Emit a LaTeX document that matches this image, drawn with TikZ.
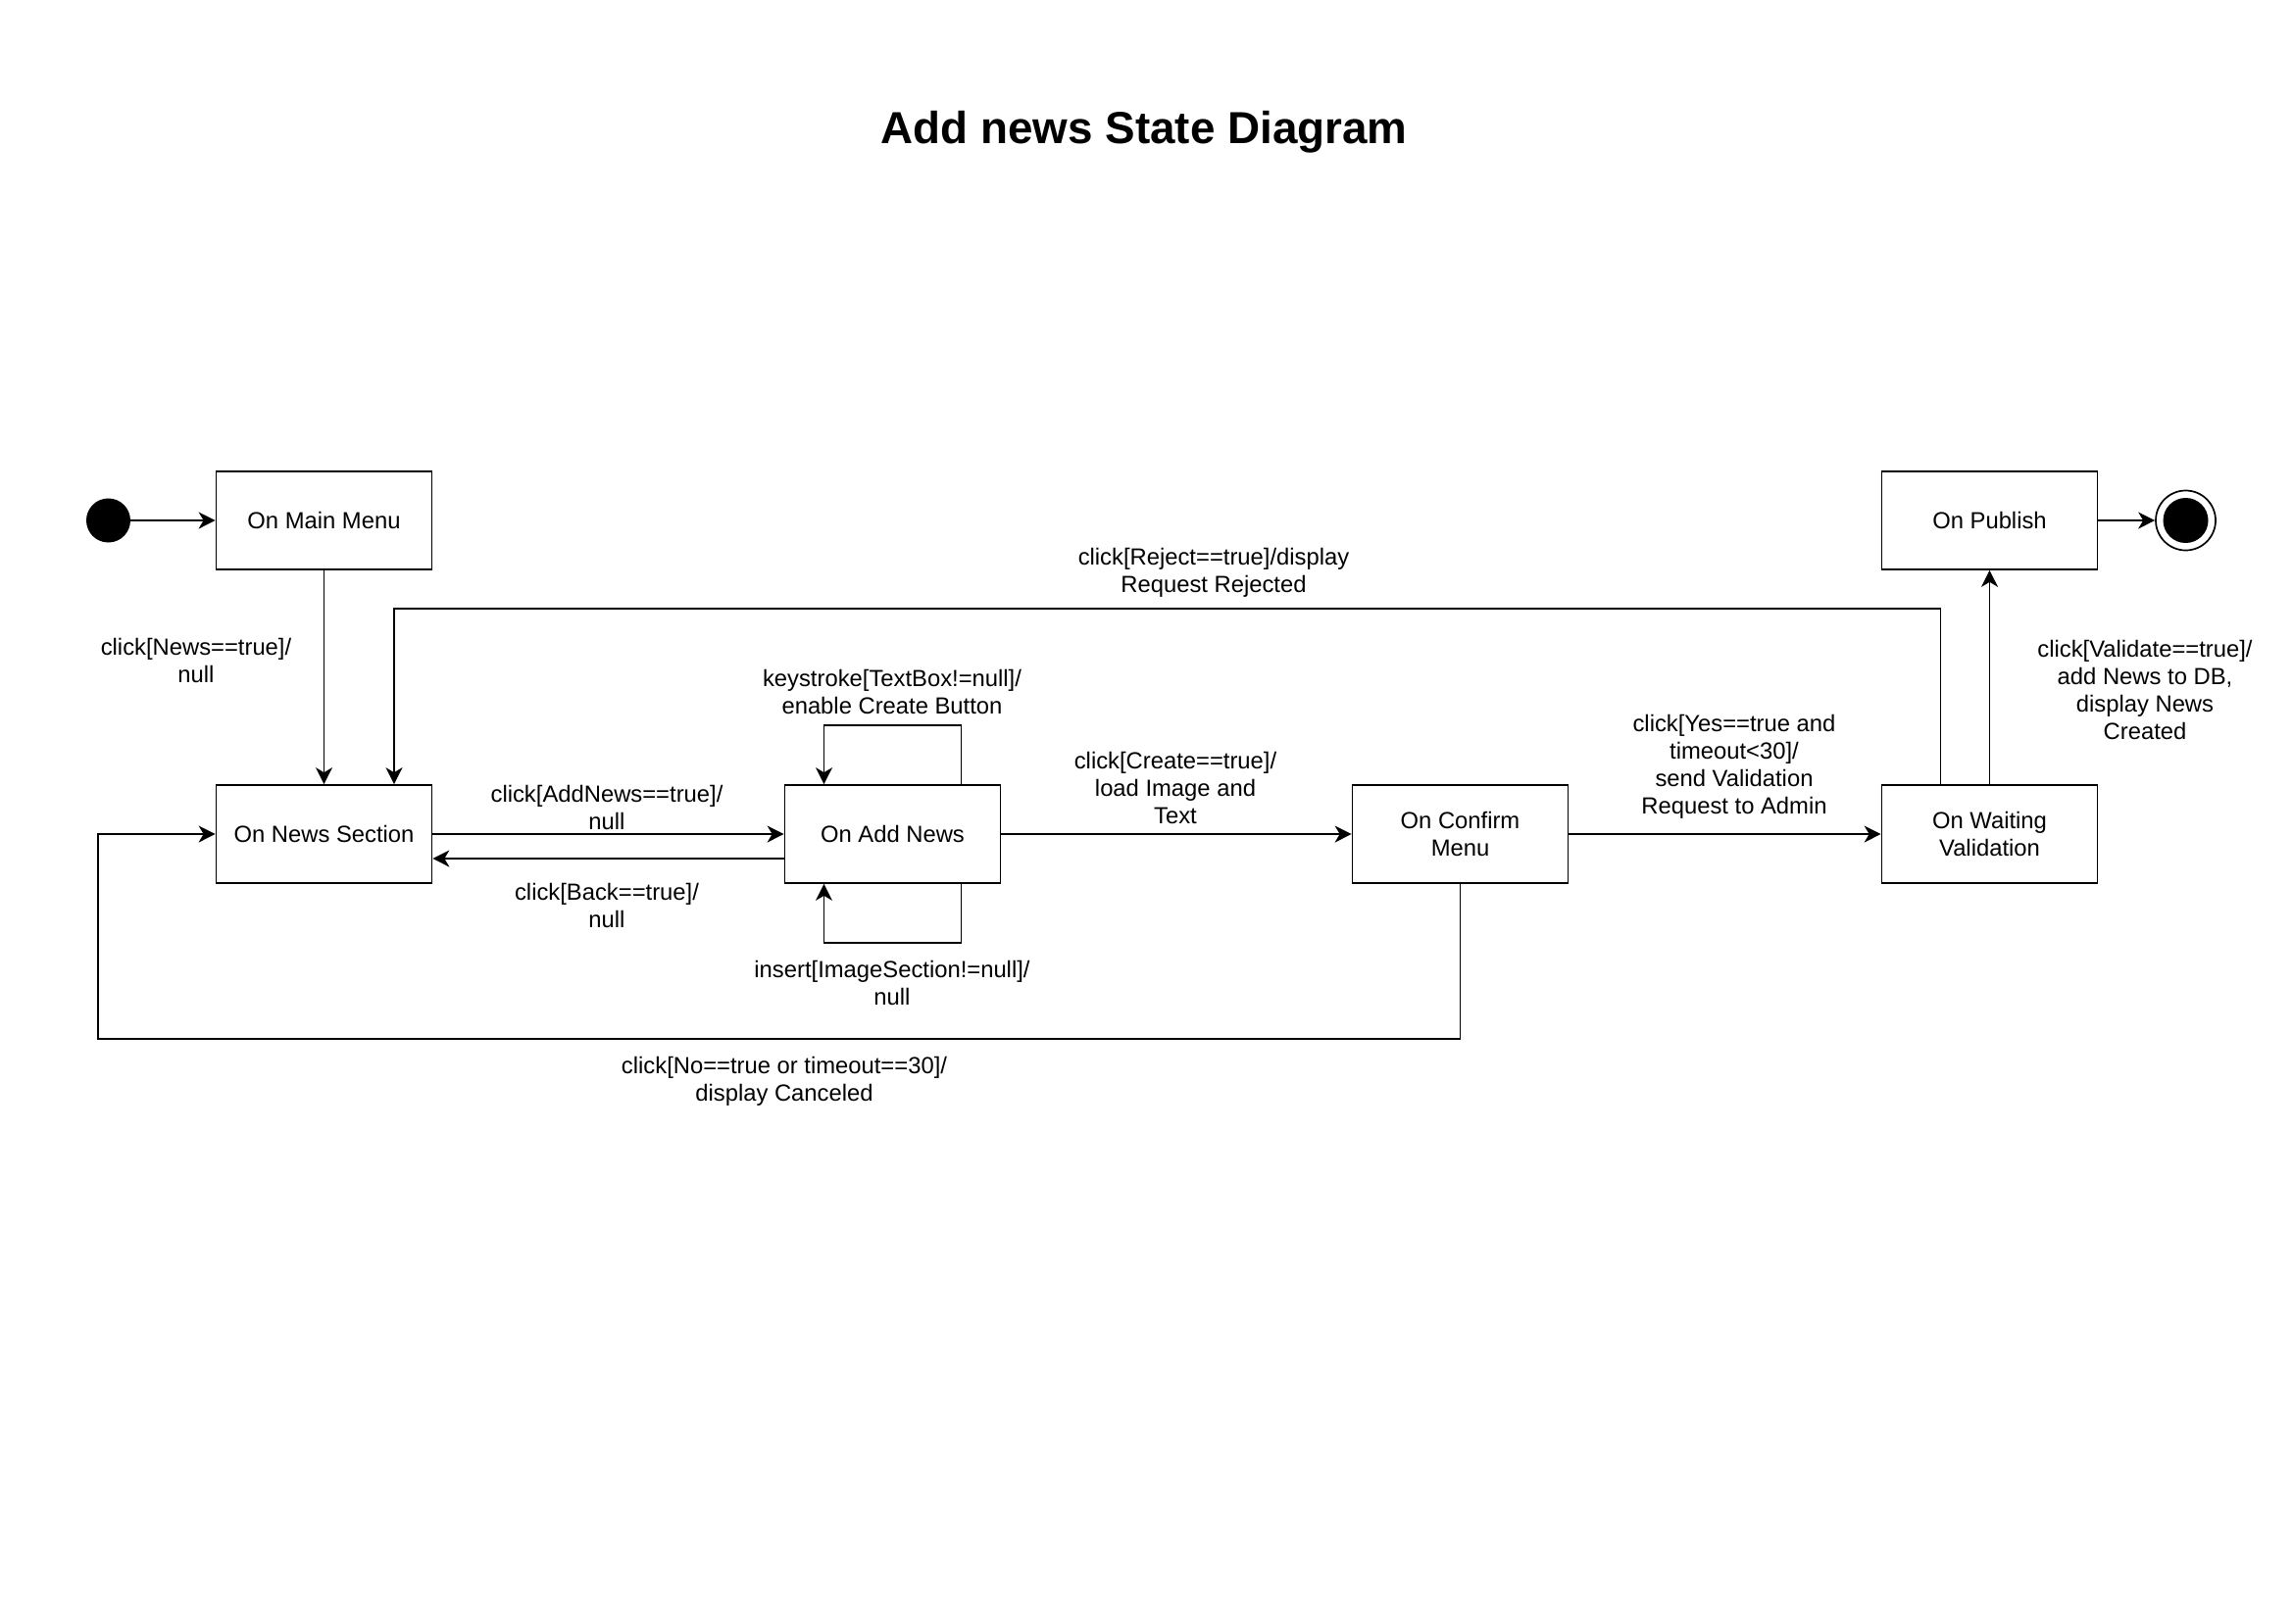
\documentclass[tikz,border=0pt]{standalone}
\usepackage{fontspec}
\setmainfont{Liberation Sans}
\usetikzlibrary{arrows.meta}

\begin{document}
\begin{tikzpicture}[x=0.5pt, y=-0.5pt,
  state/.style={draw, line width=0.85pt, minimum width=110pt, minimum height=50pt,
    align=center, inner sep=2pt, font=\fontsize{11.9}{14}\selectfont},
  lbl/.style={align=center, inner sep=0pt, font=\fontsize{11.9}{14}\selectfont},
  arr/.style={-{Stealth[length=8.5pt, width=8.5pt, inset=2.5pt]}, line width=0.85pt}]
  \useasboundingbox (0,0) rectangle (2339,1656);

  % Title
  \node[font=\bfseries\fontsize{22.9}{27}\selectfont] (title) at (1167,135) {Add news State Diagram};

  % Define the states
  \node[circle, fill=black, minimum size=22.5pt, inner sep=0pt] (init) at (110.5,531) {};
  \node[state] (main) at (330.5,531) {On Main Menu};
  \node[state] (news) at (330.5,851) {On News Section};
  \node[state] (add) at (910.5,851) {On Add News};
  \node[state] (confirm) at (1489.5,851) {On Confirm\\Menu};
  \node[state] (wait) at (2029.5,851) {On Waiting\\Validation};
  \node[state] (publish) at (2029.5,531) {On Publish};
  \node[circle, draw, line width=0.85pt, minimum size=30.5pt, inner sep=0pt] (final) at (2229.5,531) {};
  \node[circle, fill=black, minimum size=23pt, inner sep=0pt] (finaldot) at (final) {};

  % Draw the transitions
  \draw[arr] (init) -- (main);
  \draw[arr] (main) -- (news);
  \draw[arr] (news.east) -- (add.west);
  \draw[arr] ([yshift=-12.5pt]add.west) -- ([yshift=-12.5pt]news.east);
  \draw[arr] ([xshift=35pt]add.north) -- ++(0,-60) -| ([xshift=-35pt]add.north);
  \draw[arr] ([xshift=35pt]add.south) -- ++(0,60) -| ([xshift=-35pt]add.south);
  \draw[arr] (add) -- (confirm);
  \draw[arr] (confirm) -- (wait);
  \draw[arr] (wait) -- (publish);
  \draw[arr] (publish) -- (final);
  \coordinate (rejcorner) at (402,621);
  \draw[arr] ([xshift=-25pt]wait.north) |- (rejcorner) -- (rejcorner |- news.north);
  \coordinate (nocorner) at (100,1060);
  \draw[arr] (confirm.south) |- (nocorner) |- (news.west);

  % Label the transitions
  \node[lbl] (lnews) at (200,674) {click[News==true]/\\null};
  \node[lbl] (lreject) at (1238,584) {click[Reject==true]/display\\Request Rejected};
  \node[lbl] (lkey) at (910,706) {keystroke[TextBox!=null]/\\enable Create Button};
  \node[lbl] (laddnews) at (619,824) {click[AddNews==true]/\\null};
  \node[lbl] (lback) at (619,924) {click[Back==true]/\\null};
  \node[lbl] (linsert) at (910,1003) {insert[ImageSection!=null]/\\null};
  \node[lbl] (lcreate) at (1199,804) {click[Create==true]/\\load Image and\\Text};
  \node[lbl] (lyes) at (1769,782) {click[Yes==true and\\timeout<30]/\\send Validation\\Request to Admin};
  \node[lbl] (lvalidate) at (2188,704) {click[Validate==true]/\\add News to DB,\\display News\\Created};
  \node[lbl] (lno) at (800,1103) {click[No==true or timeout==30]/\\display Canceled};
\end{tikzpicture}
\end{document}
